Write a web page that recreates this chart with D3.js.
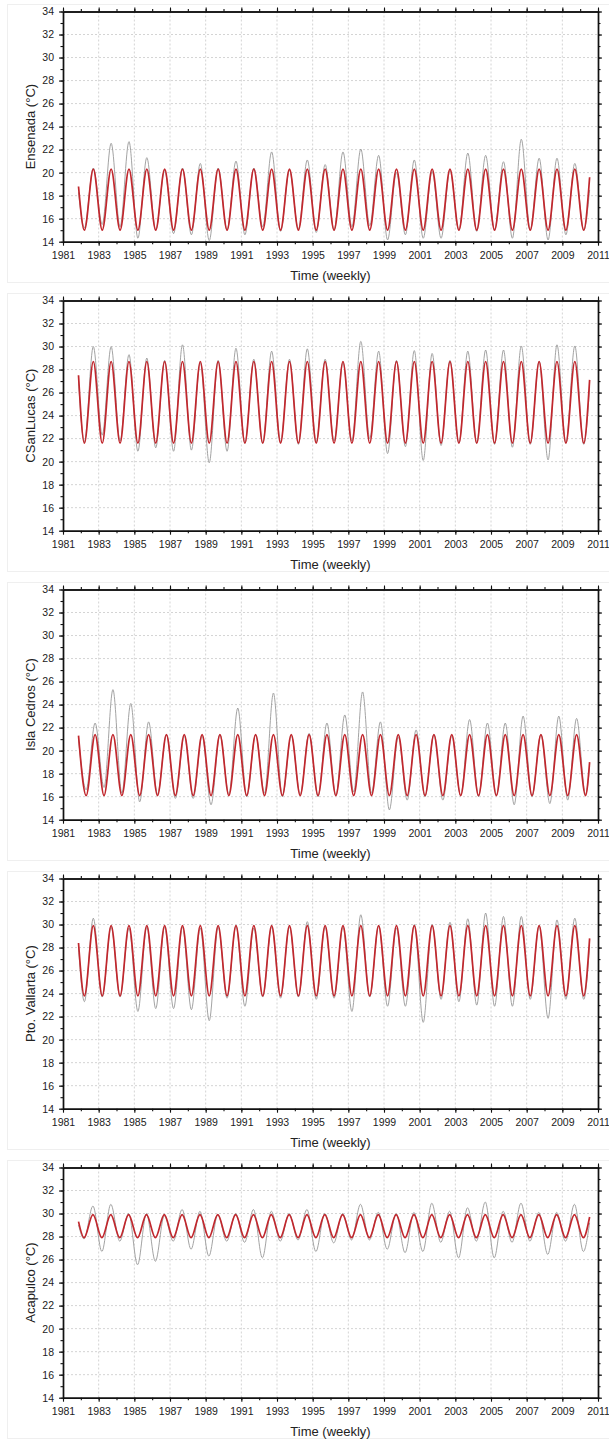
<!doctype html>
<html>
<head>
    <meta charset="utf-8">
    <script src="https://d3js.org/d3.v7.min.js"></script>
    <style>
        body { margin: 0; background: #fff; }
        text { font-family: "Liberation Sans", Arial, sans-serif; fill: #222; }
    </style>
</head>
<body>
    <script>
        // stations, one panel each
        var stations = ["Ensenada", "CSanLucas", "Isla Cedros", "Pto. Vallarta", "Acapulco"];

        // years of the summer peaks / winter troughs
        var peakYears = [1982,1983,1984,1985,1986,1987,1988,1989,1990,1991,1992,1993,1994,1995,
                         1996,1997,1998,1999,2000,2001,2002,2003,2004,2005,2006,2007,2008,2009];
        var troughYears = peakYears.concat([2010]);
        var startTime = 1981.87;
        var endTime = 2010.53;

        // fitted annual cycle (red)
        var fitPeak = [20.3, 28.7, 21.4, 29.9, 29.9];
        var fitTrough = [15.0, 21.6, 16.1, 23.8, 27.9];
        var peakOffset = [0.70, 0.70, 0.80, 0.70, 0.68];
        var fitStart = [18.8, 27.5, 21.3, 28.4, 29.3];
        var fitEnd = [19.6, 27.1, 19.0, 28.8, 29.7];

        // weekly observations (grey), read as yearly maxima / minima
        var obsStart = [18.3, 27.0, 21.0, 28.0, 29.0];
        var obsEnd = [18.5, 26.5, 18.6, 28.2, 29.2];
        var obsPeak = [
            [20.4,22.55,22.7,21.3,20.2,20.4,20.8,20.4,21.0,20.4,21.8,20.2,21.1,20.7,21.8,22.05,21.5,20.0,21.1,20.1,20.2,21.7,21.5,20.95,22.9,21.25,21.25,20.8],
            [30.0,30.0,29.3,29.0,28.8,30.15,28.6,28.8,29.85,28.9,29.6,28.9,29.8,28.9,28.6,30.45,29.6,28.8,29.65,29.4,28.8,29.6,29.7,29.7,30.05,28.7,30.15,30.05],
            [22.4,25.3,24.1,22.5,21.4,21.3,21.3,21.4,23.7,21.4,25.0,21.3,21.5,22.4,23.1,25.1,22.5,21.2,21.8,21.4,21.3,22.7,22.4,22.4,23.0,21.4,23.0,22.8],
            [30.55,29.8,29.7,29.8,29.8,29.8,29.7,29.8,29.9,29.7,29.8,29.8,30.25,29.8,29.8,30.85,29.9,29.7,30.0,30.0,30.2,30.5,31.0,30.7,30.7,29.9,30.4,30.55],
            [30.65,30.8,30.0,30.0,29.8,30.35,30.2,29.9,30.0,30.35,30.2,30.0,30.35,30.0,30.0,30.8,30.1,30.0,30.1,30.9,30.2,30.5,31.0,30.2,30.9,30.1,30.1,30.8]
        ];
        var obsTrough = [
            [15.2,15.5,15.3,14.3,15.0,14.7,14.6,14.1,15.0,14.6,15.3,14.9,15.1,14.8,15.0,15.3,15.4,14.15,14.6,14.3,14.3,15.0,14.9,15.0,14.3,15.0,14.15,14.6,15.0],
            [21.7,22.3,21.8,20.9,21.2,20.9,21.0,19.9,20.9,21.6,21.6,21.7,21.5,21.7,21.8,21.8,22.0,20.7,21.3,20.1,21.4,21.6,21.6,21.5,21.25,21.5,20.15,21.6,21.5],
            [16.6,16.8,16.3,15.55,16.2,15.85,15.85,15.3,16.2,16.0,16.3,16.0,16.2,16.0,16.1,16.4,16.3,14.85,15.7,16.0,15.7,16.1,16.0,16.1,15.3,16.0,15.4,15.7,16.2],
            [23.3,23.7,23.7,22.45,22.7,22.7,22.6,21.65,23.6,22.9,23.7,23.6,23.7,23.5,23.6,22.45,23.7,22.9,22.9,21.5,23.5,23.3,23.0,22.9,22.9,23.5,21.85,23.5,23.5],
            [27.8,26.7,27.6,25.55,25.85,27.6,26.9,26.3,27.6,27.5,26.15,27.6,27.7,26.7,27.45,27.7,27.7,26.9,26.6,26.7,27.5,26.15,27.6,26.15,27.5,27.6,26.45,27.6,26.7]
        ];

        // tick labels
        var xTicks = d3.range(1981, 2012, 2);
        var xMinor = d3.range(1981, 2012, 1);
        var yTicks = d3.range(14, 35, 2);
        var yMinor = d3.range(14, 35, 1);

        var width = 609, height = 1440;
        var plotL = 63, plotR = 598, plotT = 11.5, plotB = 241.7, step = 289;

        var x = d3.scaleLinear().domain([1981, 2011]).range([plotL, plotR]);
        var y = d3.scaleLinear().domain([14, 34]).range([plotB, plotT]);

        var svg = d3.select("body").append("svg")
                    .attr("width", width)
                    .attr("height", height);

        // build alternating trough / peak points for a station
        function cycle(i, start, troughs, peaks, end) {
            var pts = [[startTime, start]];
            troughYears.forEach(function(yr, k) {
                pts.push([yr + peakOffset[i] - 0.5, troughs[k]]);
                if (k < peaks.length) pts.push([peakYears[k] + peakOffset[i], peaks[k]]);
            });
            pts.push([endTime, end]);
            return pts;
        }

        var line = d3.line()
                     .x(function(d){ return x(d[0]); })
                     .y(function(d){ return y(d[1]); })
                     .curve(d3.curveMonotoneX);

        function styleAxis(sel) {
            sel.selectAll("path").attr("stroke", "#111").attr("stroke-width", 1.4);
            sel.selectAll("line").attr("stroke", "#111").attr("stroke-width", 1.1);
            sel.selectAll("text").attr("font-size", "10.5px").attr("fill", "#222")
               .attr("font-family", "'Liberation Sans', Arial, sans-serif");
        }
        var none = function(){ return ""; };

        stations.forEach(function(name, i) {
            var g = svg.append("g").attr("transform", "translate(0," + (i * step) + ")");

            // faint frame of the pasted panel
            g.append("rect")
             .attr("x", 7.5).attr("y", 4.5)
             .attr("width", 610).attr("height", 278)
             .attr("fill", "none").attr("stroke", "#efefef");

            // dotted grid
            g.append("g").selectAll("line").data(xTicks.slice(1, -1)).enter().append("line")
             .attr("x1", function(d){ return x(d); }).attr("x2", function(d){ return x(d); })
             .attr("y1", plotT).attr("y2", plotB)
             .attr("stroke", "#d4d4d4").attr("stroke-dasharray", "2,2");
            g.append("g").selectAll("line").data(yTicks.slice(1, -1)).enter().append("line")
             .attr("y1", function(d){ return y(d); }).attr("y2", function(d){ return y(d); })
             .attr("x1", plotL).attr("x2", plotR)
             .attr("stroke", "#d4d4d4").attr("stroke-dasharray", "2,2");

            // observed series
            g.append("path")
             .datum(cycle(i, obsStart[i], obsTrough[i], obsPeak[i], obsEnd[i]))
             .attr("d", line)
             .attr("fill", "none")
             .attr("stroke", "#999")
             .attr("stroke-width", 0.9);

            // fitted cycle
            var fitPeaks = peakYears.map(function(){ return fitPeak[i]; });
            var fitTroughs = troughYears.map(function(){ return fitTrough[i]; });
            g.append("path")
             .datum(cycle(i, fitStart[i], fitTroughs, fitPeaks, fitEnd[i]))
             .attr("d", line)
             .attr("fill", "none")
             .attr("stroke", "#c1272d")
             .attr("stroke-width", 1.7);

            // axes, major and minor ticks on all four sides
            g.append("g").attr("transform", "translate(0," + plotB + ")")
             .call(d3.axisBottom(x).tickValues(xMinor).tickSize(2.5).tickSizeOuter(0).tickFormat(none)).call(styleAxis);
            g.append("g").attr("transform", "translate(0," + plotB + ")")
             .call(d3.axisBottom(x).tickValues(xTicks).tickSize(4).tickSizeOuter(0).tickPadding(6).tickFormat(d3.format("d"))).call(styleAxis);
            g.append("g").attr("transform", "translate(0," + plotT + ")")
             .call(d3.axisTop(x).tickValues(xMinor).tickSize(2.5).tickSizeOuter(0).tickFormat(none)).call(styleAxis);
            g.append("g").attr("transform", "translate(0," + plotT + ")")
             .call(d3.axisTop(x).tickValues(xTicks).tickSize(4).tickSizeOuter(0).tickFormat(none)).call(styleAxis);

            g.append("g").attr("transform", "translate(" + plotL + ",0)")
             .call(d3.axisLeft(y).tickValues(yMinor).tickSize(2.5).tickSizeOuter(0).tickFormat(none)).call(styleAxis);
            g.append("g").attr("transform", "translate(" + plotL + ",0)")
             .call(d3.axisLeft(y).tickValues(yTicks).tickSize(4).tickSizeOuter(0).tickPadding(5).tickFormat(d3.format("d"))).call(styleAxis);
            g.append("g").attr("transform", "translate(" + plotR + ",0)")
             .call(d3.axisRight(y).tickValues(yMinor).tickSize(2.5).tickSizeOuter(0).tickFormat(none)).call(styleAxis);
            g.append("g").attr("transform", "translate(" + plotR + ",0)")
             .call(d3.axisRight(y).tickValues(yTicks).tickSize(4).tickSizeOuter(0).tickFormat(none)).call(styleAxis);

            // titles
            g.append("text")
             .attr("x", (plotL + plotR) / 2).attr("y", 280)
             .attr("text-anchor", "middle")
             .attr("font-size", "13px")
             .text("Time (weekly)");
            g.append("text")
             .attr("transform", "translate(35," + ((plotT + plotB) / 2) + ") rotate(-90)")
             .attr("text-anchor", "middle")
             .attr("font-size", "13px")
             .text(name + " (°C)");
        });
    </script>
</body>
</html>
